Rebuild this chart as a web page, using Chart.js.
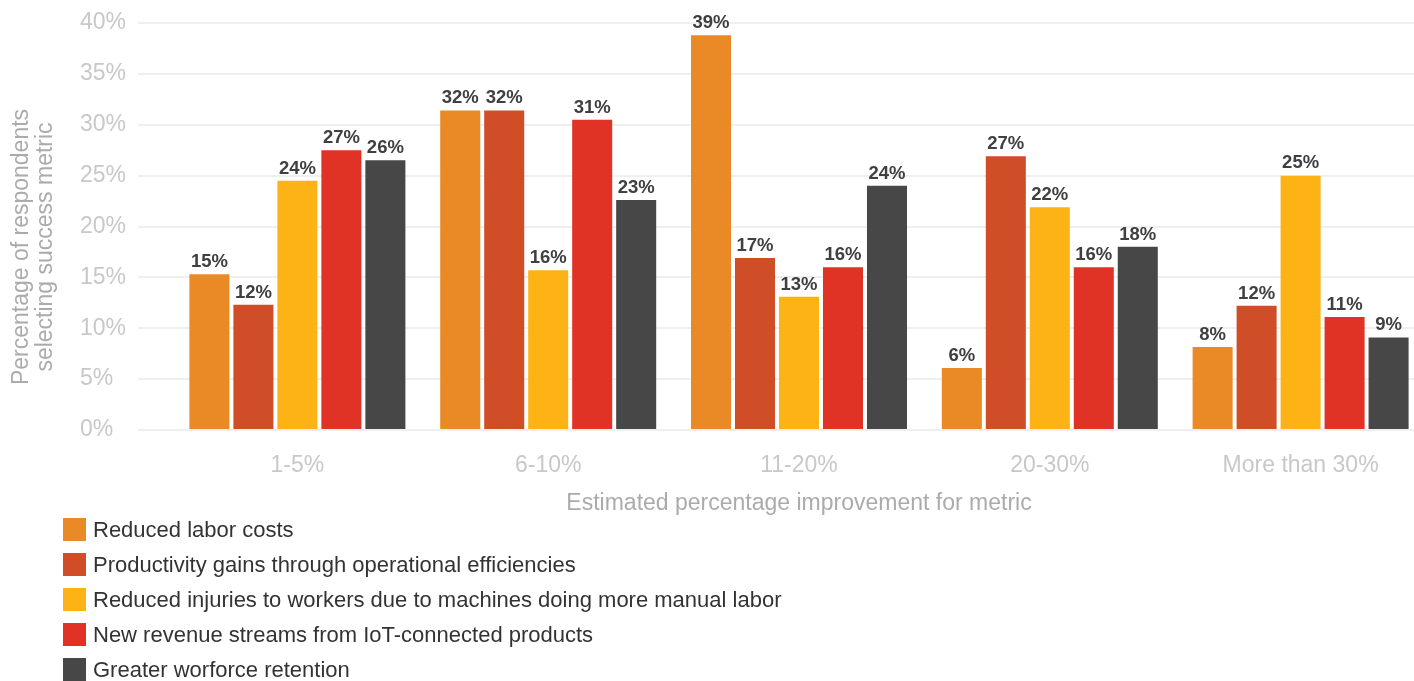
<!DOCTYPE html>
<html>
<head>
<meta charset="utf-8">
<script src="https://cdn.jsdelivr.net/npm/chart.js@4"></script>
<style>
    body { margin: 0; background: #fff; overflow: hidden; font-family: "Liberation Sans", Arial, sans-serif; }
    #wrap { position: relative; width: 1426px; height: 520px; }
    #legend { position: absolute; left: 63px; top: 512px; }
    .item { display: flex; align-items: center; height: 35px; font-size: 22px; color: #333; }
    .box { width: 23px; height: 23px; margin-right: 7px; }
</style>
</head>
<body>
<div id="wrap"><canvas id="improvementChart"></canvas></div>
<div id="legend"></div>
<script>
const categories = ["1-5%", "6-10%", "11-20%", "20-30%", "More than 30%"];
const seriesNames = [
    "Reduced labor costs",
    "Productivity gains through operational efficiencies",
    "Reduced injuries to workers due to machines doing more manual labor",
    "New revenue streams from IoT-connected products",
    "Greater worforce retention"
];
const seriesColors = ["#E98A26", "#CF4D27", "#FDB316", "#E03225", "#474747"];

// bar heights as drawn (percent)
const laborCosts = [15.3, 31.4, 38.8, 6.1, 8.15];
const productivity = [12.3, 31.4, 16.9, 26.9, 12.2];
const injuries = [24.5, 15.7, 13.1, 21.9, 25.0];
const newRevenue = [27.5, 30.5, 16.0, 16.0, 11.1];
const retention = [26.5, 22.6, 24.0, 18.0, 9.1];

// printed value labels
const laborLabels = ["15%", "32%", "39%", "6%", "8%"];
const productivityLabels = ["12%", "32%", "17%", "27%", "12%"];
const injuriesLabels = ["24%", "16%", "13%", "22%", "25%"];
const revenueLabels = ["27%", "31%", "16%", "16%", "11%"];
const retentionLabels = ["26%", "23%", "24%", "18%", "9%"];

const allValues = [laborCosts, productivity, injuries, newRevenue, retention];
const allLabels = [laborLabels, productivityLabels, injuriesLabels, revenueLabels, retentionLabels];

const fontFamily = '"Liberation Sans", Arial, sans-serif';

const valueLabels = {
    id: "valueLabels",
    afterDatasetsDraw(chart) {
        const ctx = chart.ctx;
        ctx.save();
        ctx.font = "bold 18.5px " + fontFamily;
        ctx.fillStyle = "#404040";
        ctx.textAlign = "center";
        ctx.textBaseline = "bottom";
        chart.data.datasets.forEach((ds, d) => {
            chart.getDatasetMeta(d).data.forEach((bar, i) => {
                ctx.fillText(allLabels[d][i], bar.x, bar.y - 3);
            });
        });
        ctx.restore();
    }
};

const yTitle = {
    id: "yTitle",
    afterDraw(chart) {
        const ctx = chart.ctx;
        ctx.save();
        ctx.font = "23px " + fontFamily;
        ctx.fillStyle = "#ababab";
        ctx.textAlign = "center";
        ctx.textBaseline = "middle";
        ctx.translate(0, 247);
        ctx.rotate(-Math.PI / 2);
        ctx.fillText("Percentage of respondents", 0, 22);
        ctx.fillText("selecting success metric", 0, 46);
        ctx.restore();
    }
};

const chart = new Chart(document.getElementById("improvementChart"), {
    type: "bar",
    data: {
        labels: categories,
        datasets: seriesNames.map((name, i) => ({
            label: name,
            data: allValues[i],
            backgroundColor: seriesColors[i],
            categoryPercentage: 0.877,
            barPercentage: 0.91
        }))
    },
    options: {
        responsive: true,
        maintainAspectRatio: false,
        animation: false,
        layout: { padding: { left: 80, top: 23, right: 0, bottom: 0 } },
        plugins: {
            legend: { display: false },
            tooltip: { enabled: false }
        },
        scales: {
            x: {
                grid: { display: false, drawTicks: false },
                border: { display: false },
                ticks: { color: "#c8c8c8", font: { family: fontFamily, size: 23 }, padding: 22 },
                title: {
                    display: true,
                    text: "Estimated percentage improvement for metric",
                    color: "#ababab",
                    font: { family: fontFamily, size: 23 },
                    padding: { top: 0, bottom: 3 }
                },
                afterFit(scale) { scale.height = 90; }
            },
            y: {
                min: 0,
                max: 40,
                grid: { color: "#efefef", lineWidth: 2, tickLength: 34, tickColor: "#efefef" },
                border: { display: false },
                ticks: {
                    stepSize: 5,
                    crossAlign: "far",
                    color: "#c8c8c8",
                    font: { family: fontFamily, size: 23 },
                    callback: v => v + "%"
                },
                afterFit(scale) { scale.width = 92; }
            }
        }
    },
    plugins: [valueLabels, yTitle]
});

const legend = document.getElementById("legend");
seriesNames.forEach((name, i) => {
    legend.innerHTML += `<div class="item"><span class="box" style="background:${seriesColors[i]}"></span>${name}</div>`;
});
</script>
</body>
</html>
